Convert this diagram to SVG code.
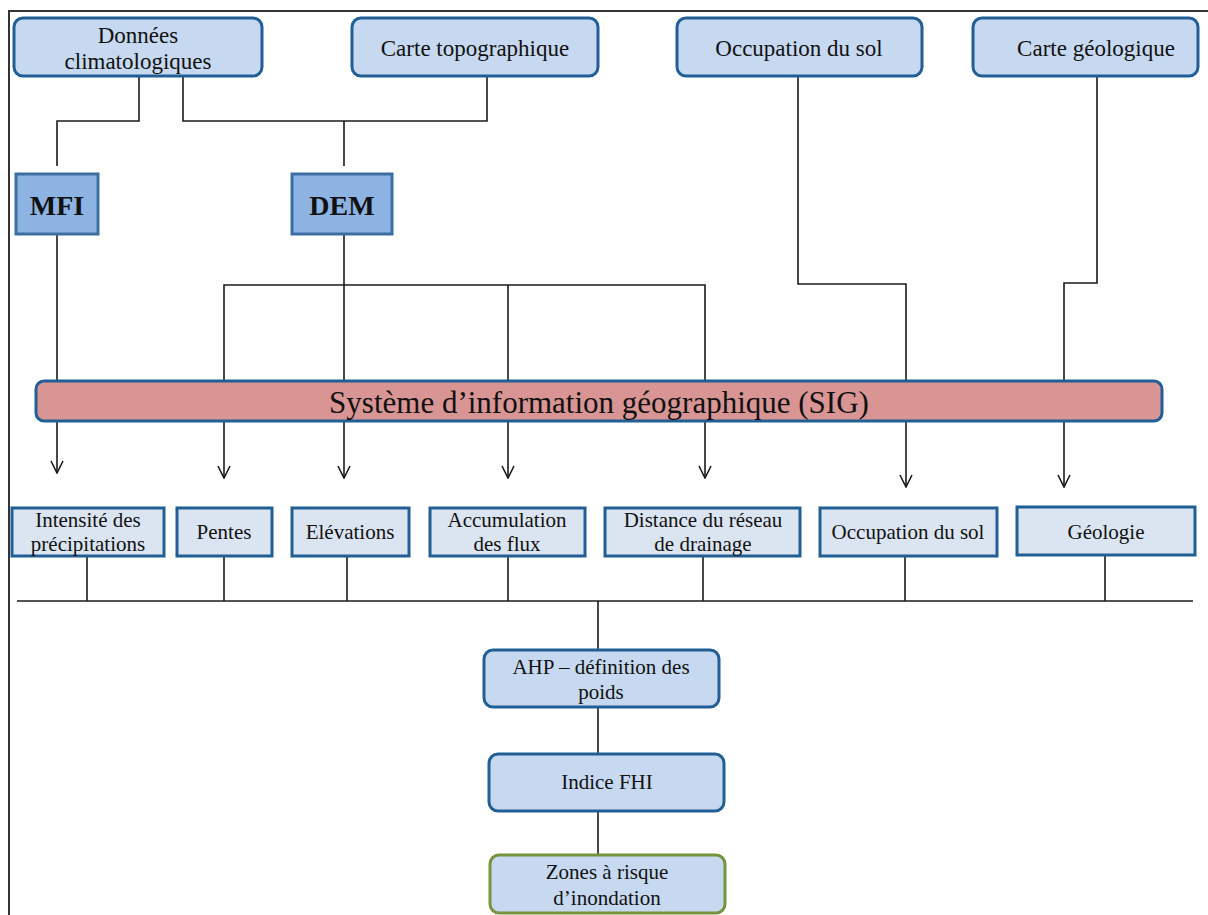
<svg xmlns="http://www.w3.org/2000/svg" width="1208" height="915" viewBox="0 0 1208 915">
<style>
text{font-family:"Liberation Serif","Times New Roman",serif;fill:#111;text-anchor:middle}
.r{fill:#c6d9f0;stroke:#215f96;stroke-width:3}
.s{fill:#dbe5f1;stroke:#215f96;stroke-width:3}
.d{fill:#8db3e2;stroke:#3d6fa6;stroke-width:3}
.c{fill:none;stroke:#1e1a1a;stroke-width:1.6}
.t20{font-size:23px}
.t18{font-size:21px}
</style>
<defs>
<marker id="ar" markerUnits="userSpaceOnUse" markerWidth="14" markerHeight="14" viewBox="0 0 14 14" refX="13" refY="7" orient="auto">
<path d="M1,1 L13,7 L1,13" fill="none" stroke="#1e1a1a" stroke-width="1.6"/>
</marker>
</defs>
<rect width="1208" height="915" fill="#fff"/>
<path d="M9,915 V11 H1208" fill="none" stroke="#333" stroke-width="2"/>
<g id="connectors">
<path class="c" d="M139,77 V121 H57 V166"/>
<path class="c" d="M183,77 V121 H487 V77"/>
<path class="c" d="M344,121 V166"/>
<path class="c" d="M57,234 V380"/>
<path class="c" d="M344,234 V380"/>
<path class="c" d="M224,380 V285 H705 V380"/>
<path class="c" d="M508,285 V380"/>
<path class="c" d="M798,77 V284 H906 V380"/>
<path class="c" d="M1097,77 V283 H1064 V380"/>
<path class="c" d="M57,421 V473" marker-end="url(#ar)"/>
<path class="c" d="M224,421 V478" marker-end="url(#ar)"/>
<path class="c" d="M344,421 V478" marker-end="url(#ar)"/>
<path class="c" d="M508,421 V478" marker-end="url(#ar)"/>
<path class="c" d="M705,421 V478" marker-end="url(#ar)"/>
<path class="c" d="M906,421 V487" marker-end="url(#ar)"/>
<path class="c" d="M1064,421 V487" marker-end="url(#ar)"/>
<path class="c" d="M87,556 V601 M224,556 V601 M347,556 V601 M508,556 V601 M703,556 V601 M905,556 V601 M1105,556 V601"/>
<path class="c" d="M17,601 H1193"/>
<path class="c" d="M598,601 V650 M598,707 V754 M598,811 V855"/>
</g>
<g id="n-donnees"><rect class="r" x="14" y="18" width="248" height="58" rx="9"/><text class="t20" x="138" y="43">Données</text><text class="t20" x="138" y="69">climatologiques</text></g>
<g id="n-topo"><rect class="r" x="352" y="18" width="246" height="58" rx="9"/><text class="t20" x="475" y="56">Carte topographique</text></g>
<g id="n-occ-top"><rect class="r" x="677" y="18" width="245" height="58" rx="9"/><text class="t20" x="799" y="56">Occupation du sol</text></g>
<g id="n-geo-top"><rect class="r" x="973" y="18" width="225" height="58" rx="9"/><text class="t20" x="1096" y="56">Carte géologique</text></g>
<g id="n-mfi"><rect class="d" x="16" y="174" width="82" height="60"/><text x="57" y="215" style="font-size:28px;font-weight:bold">MFI</text></g>
<g id="n-dem"><rect class="d" x="292" y="174" width="100" height="60"/><text x="342" y="215" style="font-size:28px;font-weight:bold">DEM</text></g>
<g id="n-sig"><rect x="36" y="381" width="1126" height="40" rx="8" fill="#d99594" stroke="#215f96" stroke-width="3"/><text x="599" y="413" style="font-size:31px">Système d’information géographique (SIG)</text></g>
<g id="n-intensite"><rect class="s" x="12" y="508" width="152" height="48"/><text class="t18" x="88" y="527">Intensité des</text><text class="t18" x="88" y="551">précipitations</text></g>
<g id="n-pentes"><rect class="s" x="177" y="508" width="95" height="48"/><text class="t18" x="224" y="539">Pentes</text></g>
<g id="n-elev"><rect class="s" x="292" y="508" width="117" height="48"/><text class="t18" x="350" y="539">Elévations</text></g>
<g id="n-accum"><rect class="s" x="430" y="508" width="155" height="48"/><text class="t18" x="507" y="527">Accumulation</text><text class="t18" x="507" y="551">des flux</text></g>
<g id="n-distance"><rect class="s" x="605" y="508" width="195" height="48"/><text class="t18" x="703" y="527">Distance du réseau</text><text class="t18" x="703" y="551">de drainage</text></g>
<g id="n-occ"><rect class="s" x="820" y="508" width="177" height="48"/><text class="t18" x="908" y="539">Occupation du sol</text></g>
<g id="n-geol"><rect class="s" x="1017" y="507" width="178" height="48"/><text class="t18" x="1106" y="539">Géologie</text></g>
<g id="n-ahp"><rect class="r" x="484" y="650" width="235" height="57" rx="9"/><text class="t18" x="601" y="674">AHP – définition des</text><text class="t18" x="601" y="699">poids</text></g>
<g id="n-fhi"><rect class="r" x="489" y="754" width="235" height="57" rx="9"/><text class="t18" x="607" y="789">Indice FHI</text></g>
<g id="n-zones"><rect x="490" y="855" width="235" height="58" rx="9" fill="#c6d9f0" stroke="#77933c" stroke-width="3"/><text class="t18" x="607" y="879">Zones à risque</text><text class="t18" x="607" y="905">d’inondation</text></g>
</svg>
